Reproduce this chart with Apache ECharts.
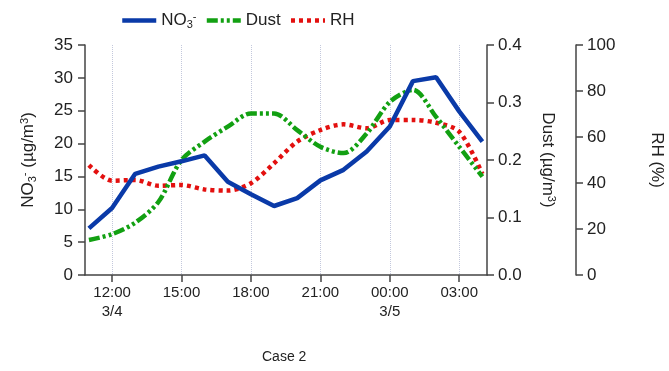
<!DOCTYPE html>
<html>
<head>
<meta charset="utf-8">
<script src="https://cdn.jsdelivr.net/npm/echarts@6/dist/echarts.min.js"></script>
<style>
  html, body { margin: 0; padding: 0; background: #fff; }
  #main { width: 669px; height: 371px; }
</style>
</head>
<body>
<div id="main"></div>
<script>
// hours since 3/4 00:00 (hourly, 11:00 on 3/4 to 04:00 on 3/5)
var hours = [11, 12, 13, 14, 15, 16, 17, 18, 19, 20, 21, 22, 23, 24, 25, 26, 27, 28];
var no3  = [7.1, 10.2, 15.4, 16.5, 17.3, 18.2, 14.2, 12.3, 10.5, 11.7, 14.4, 16.0, 18.8, 22.6, 29.5, 30.1, 24.9, 20.3];
var dust = [0.061, 0.071, 0.091, 0.127, 0.200, 0.232, 0.258, 0.281, 0.281, 0.252, 0.223, 0.212, 0.246, 0.301, 0.322, 0.275, 0.223, 0.171];
var rh   = [47.8, 41.0, 41.3, 38.8, 39.1, 37.2, 36.7, 39.9, 48.6, 58.0, 63.0, 65.5, 63.8, 67.4, 67.4, 66.2, 62.3, 43.9];
var tickHours  = [12, 15, 18, 21, 24, 27];
var tickLabels = ['12:00\n3/4', '15:00', '18:00', '21:00', '00:00\n3/5', '03:00'];

function pairs(vals) {
  return hours.map(function (h, i) { return [h, vals[i]]; });
}

var font = "'Liberation Sans', Arial, sans-serif";
var axisColor = '#444';
var rich = {
  n:   { fontSize: 17, fontFamily: font, color: '#222' },
  sub: { fontSize: 11, fontFamily: font, color: '#222', verticalAlign: 'bottom', padding: [8, 0, 0, 0] },
  sup: { fontSize: 11, fontFamily: font, color: '#222', verticalAlign: 'top', padding: [0, 0, 8, 0] }
};

var myChart = echarts.init(document.getElementById('main'));

var option = {
  animation: false,
  textStyle: { fontFamily: font },
  title: {
    text: 'Case 2',
    left: 257,
    top: 345,
    textStyle: { fontSize: 14, fontWeight: 'normal', color: '#222', fontFamily: font }
  },
  legend: {
    top: 6,
    left: 115,
    itemWidth: 34,
    itemHeight: 14,
    itemGap: 8,
    data: ['NO3', 'Dust', 'RH'],
    itemStyle: { opacity: 0 },
    lineStyle: { width: 4.5 },
    formatter: function (name) {
      if (name === 'NO3') return '{n|NO}{sub|3}{sup|-}';
      return '{n|' + name + '}';
    },
    textStyle: { rich: rich }
  },
  grid: { left: 85, right: 182, top: 45, bottom: 96, outerBoundsMode: 'none' },
  xAxis: {
    type: 'value',
    min: 10.83,
    max: 28.2,
    axisLine: { lineStyle: { color: axisColor, width: 1.5 } },
    axisTick: { customValues: tickHours, length: 7, lineStyle: { color: axisColor, width: 1.5 } },
    axisLabel: {
      customValues: tickHours,
      color: '#222',
      fontSize: 15,
      lineHeight: 19,
      margin: 8,
      formatter: function (v) {
        var i = tickHours.indexOf(v);
        return i >= 0 ? tickLabels[i] : '';
      }
    },
    splitLine: { show: true, lineStyle: { color: '#c3c8dc', type: 'dotted', width: 1 } }
  },
  yAxis: [
    {
      type: 'value', position: 'left', min: 0, max: 35, interval: 5,
      name: '{n|NO}{sub|3}{sup|-}{n| (µg/m}{sup|3}{n|)}',
      nameLocation: 'middle', nameGap: 47,
      nameTextStyle: { rich: rich },
      axisLine: { show: true, lineStyle: { color: axisColor, width: 1.5 } },
      axisTick: { show: true, length: 7, lineStyle: { color: axisColor, width: 1.5 } },
      axisLabel: { color: '#222', fontSize: 17, margin: 12 },
      splitLine: { show: false }
    },
    {
      type: 'value', position: 'right', min: 0, max: 0.4, interval: 0.1,
      name: '{n|Dust (µg/m}{sup|3}{n|)}',
      nameLocation: 'middle', nameGap: 51, nameRotate: -90,
      nameTextStyle: { rich: rich },
      axisLine: { show: true, lineStyle: { color: axisColor, width: 1.5 } },
      axisTick: { show: true, length: 7, lineStyle: { color: axisColor, width: 1.5 } },
      axisLabel: { color: '#222', fontSize: 17, margin: 11, formatter: function (v) { return v.toFixed(1); } },
      splitLine: { show: false }
    },
    {
      type: 'value', position: 'right', offset: 89, min: 0, max: 100, interval: 20,
      name: '{n|RH (%)}',
      nameLocation: 'middle', nameGap: 72, nameRotate: -90,
      nameTextStyle: { rich: rich },
      axisLine: { show: true, lineStyle: { color: axisColor, width: 1.5 } },
      axisTick: { show: true, length: 7, lineStyle: { color: axisColor, width: 1.5 } },
      axisLabel: { color: '#222', fontSize: 17, margin: 11 },
      splitLine: { show: false }
    }
  ],
  series: [
    {
      name: 'RH', type: 'line', yAxisIndex: 2, data: pairs(rh),
      symbol: 'none', smooth: 0.3, color: '#e3100f',
      lineStyle: { width: 4.5, color: '#e3100f', type: [4, 4], cap: 'butt' }
    },
    {
      name: 'Dust', type: 'line', yAxisIndex: 1, data: pairs(dust),
      symbol: 'none', smooth: 0.3, color: '#12a012',
      lineStyle: { width: 4.5, color: '#12a012', type: [11, 3, 3, 3, 3, 3], cap: 'butt' }
    },
    {
      name: 'NO3', type: 'line', yAxisIndex: 0, data: pairs(no3),
      symbol: 'none', color: '#0a3aa8',
      lineStyle: { width: 4.5, color: '#0a3aa8' }
    }
  ]
};

myChart.setOption(option);
</script>
</body>
</html>
